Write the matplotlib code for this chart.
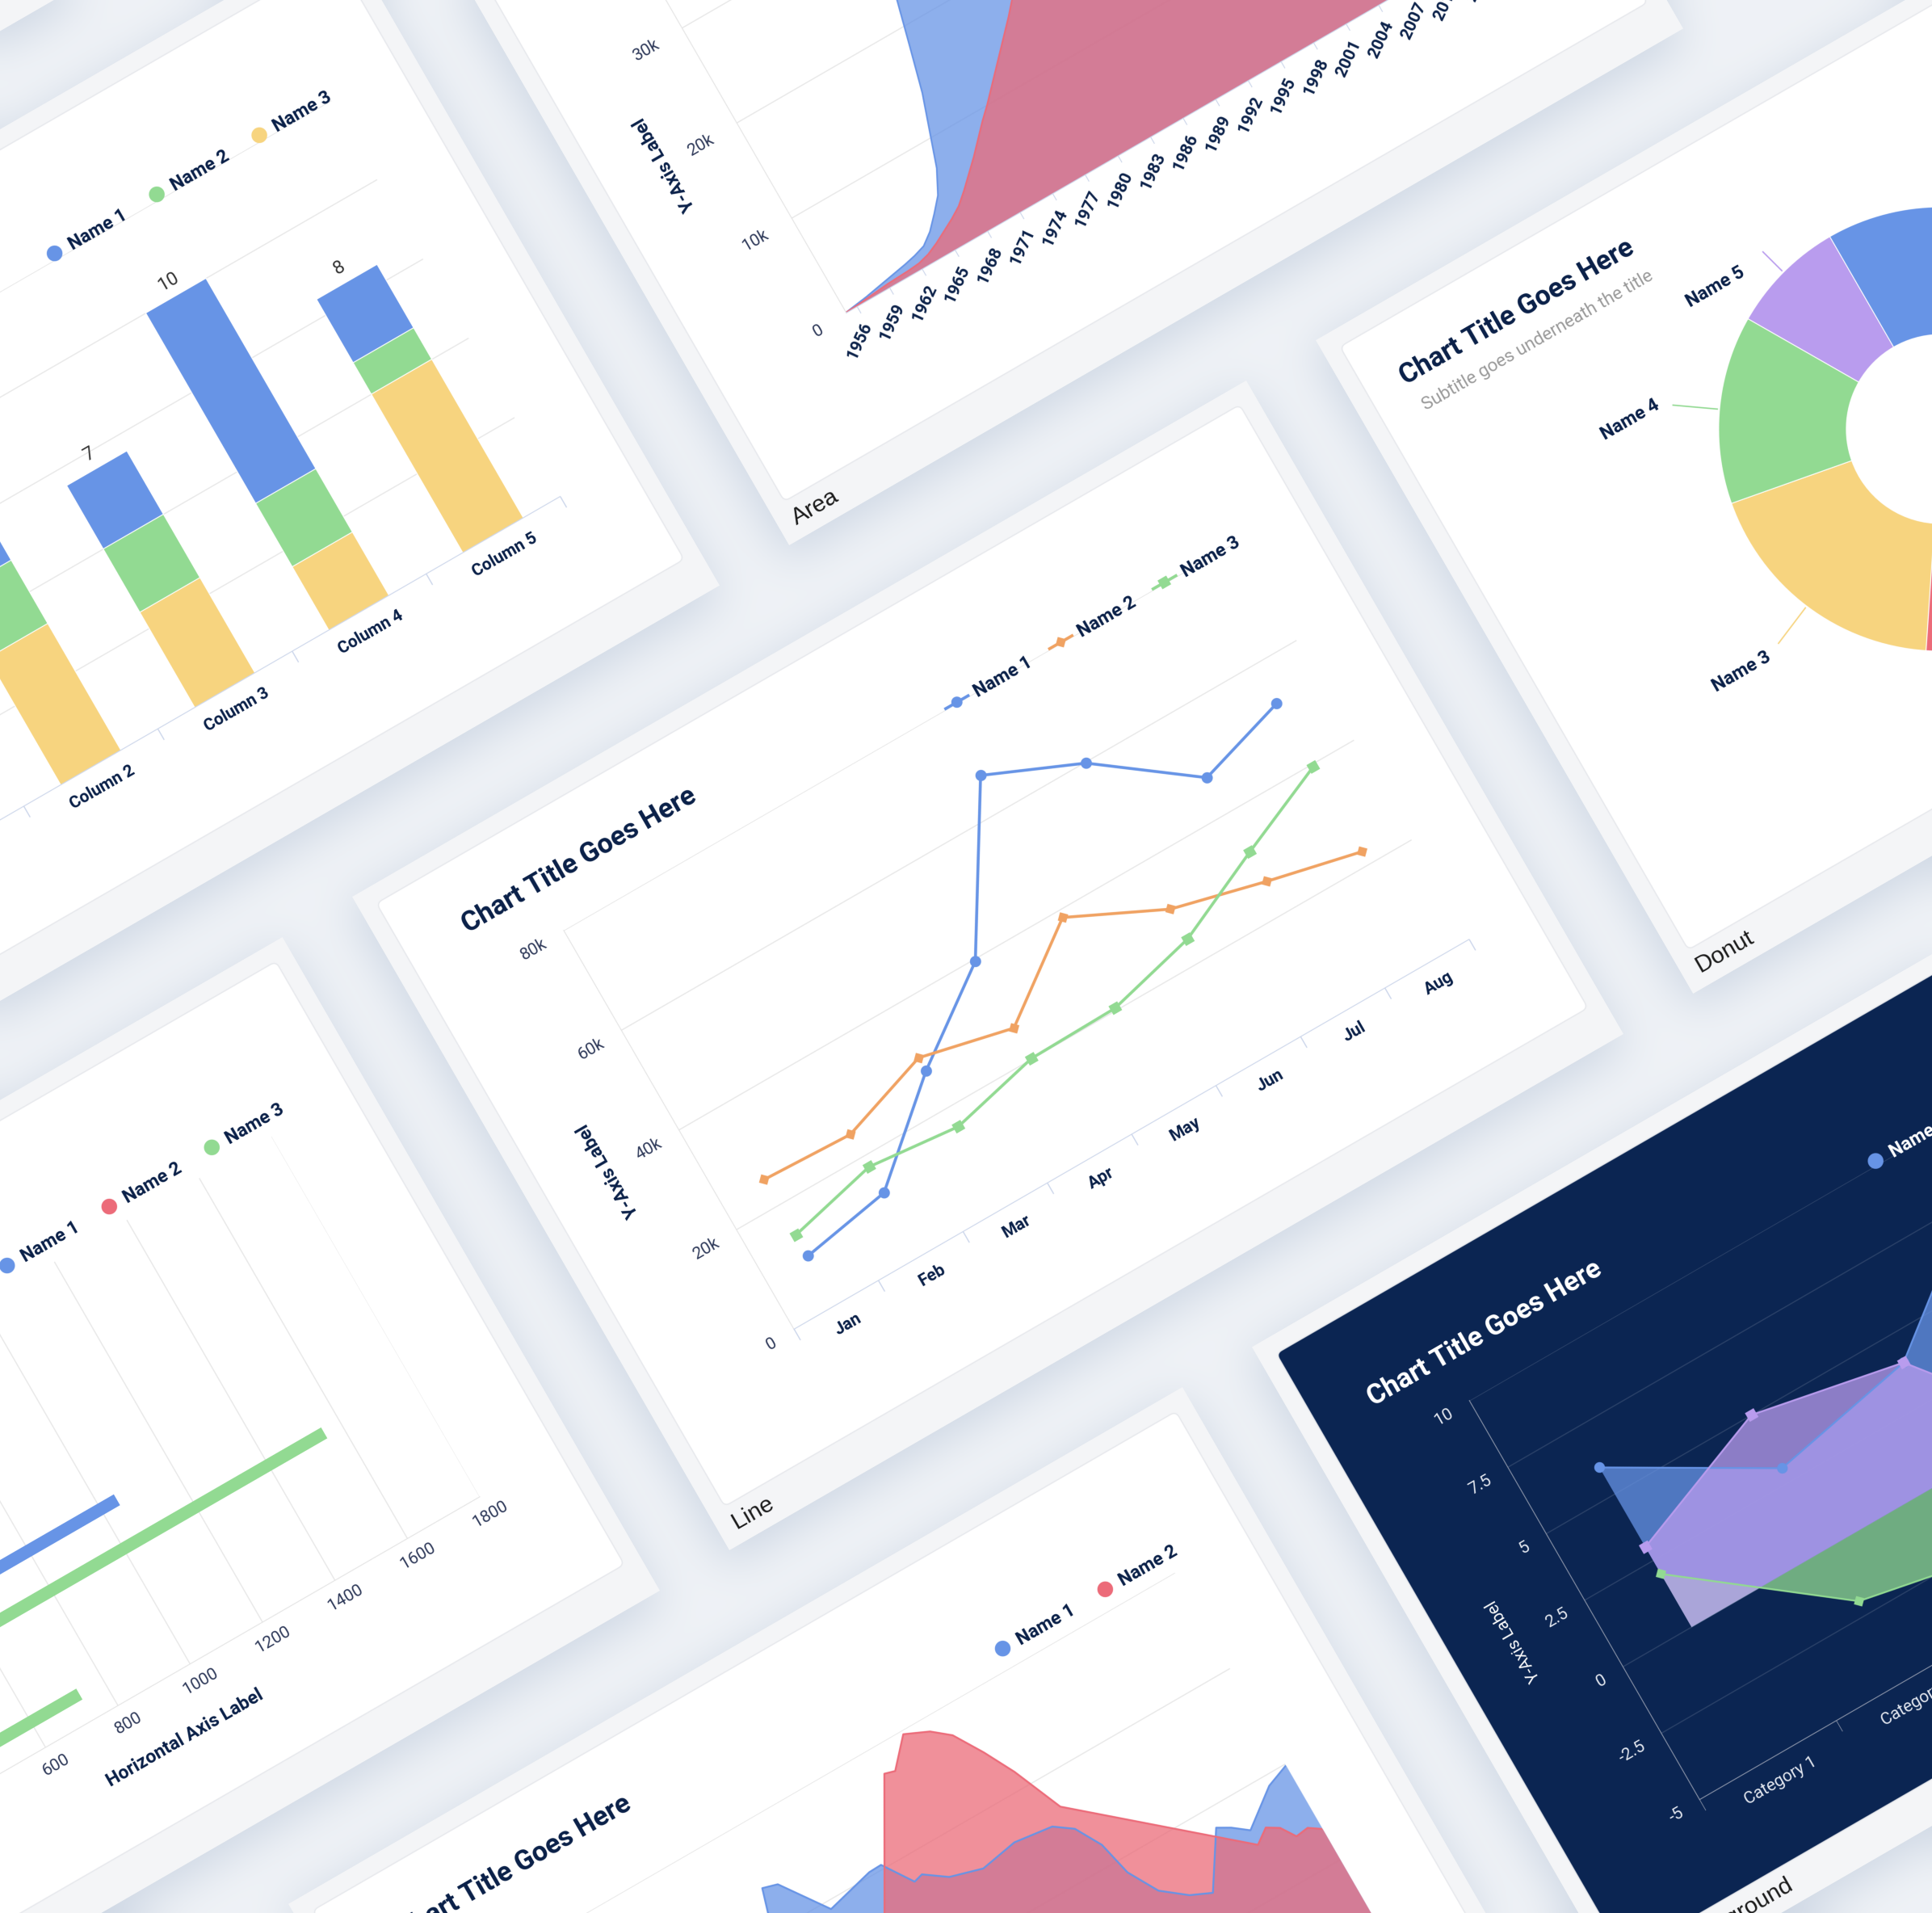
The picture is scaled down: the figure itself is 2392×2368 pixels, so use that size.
import numpy as np
import matplotlib
matplotlib.use('Agg')
import matplotlib.pyplot as plt
from matplotlib.lines import Line2D
from matplotlib.patches import FancyBboxPatch, Rectangle
from matplotlib.transforms import Affine2D

plt.rcParams['font.family'] = ['Roboto', 'DejaVu Sans']

# ---------------------------------------------------------------- data
months = ['Jan', 'Feb', 'Mar', 'Apr', 'May', 'Jun', 'Jul', 'Aug']
line_name1 = [9800, 12700, 27400, 39600, 67100, 59800, 47100, 52200]
line_name2 = [25100, 24400, 30000, 26200, 38600, 30500, 26300, 22500]
line_name3 = [14000, 17900, 16200, 20100, 20400, 24500, 32200, 39500]
line_yticks = [0, 20000, 40000, 60000, 80000]
line_ylabels = ['0', '20k', '40k', '60k', '80k']

columns = ['Column 1', 'Column 2', 'Column 3', 'Column 4', 'Column 5']
stack_name1 = [1, 3, 2, 6, 2]
stack_name2 = [2, 2, 2, 2, 1]
stack_name3 = [3, 4, 3, 2, 5]

# area chart, thousands
area_years = list(range(1955, 2018))
area_blue = [0.05, 0.2, 0.35, 0.55, 0.75, 0.95, 1.15, 1.4, 1.75, 2.6,
             3.8, 5.1, 7.3, 10.6, 13.9, 18.2, 22.6, 26.0, 28.4, 30.0,
             31.0, 31.4, 31.2, 30.6, 29.8, 28.9, 28.0, 27.2, 26.4, 25.6,
             24.9, 24.3, 23.8, 23.2, 22.6, 21.5, 19.8, 17.6, 15.4, 13.6,
             12.2, 11.3, 10.9, 10.7, 10.6, 10.6, 10.5, 10.4, 10.0, 9.0,
             8.4, 8.0, 6.4, 5.6, 5.2, 5.0, 4.9, 4.8, 4.8, 4.7,
             4.6, 4.5, 4.5]
area_red = [0.05, 0.1, 0.2, 0.3, 0.4, 0.45, 0.5, 0.6, 0.9, 1.4,
            2.0, 2.6, 3.3, 4.3, 5.4, 6.5, 7.7, 8.9, 10.0, 11.2,
            12.4, 13.6, 14.8, 16.0, 17.3, 19.0, 21.0, 23.0, 25.0, 27.0,
            29.0, 30.0, 29.5, 28.5, 27.5, 26.0, 24.0, 22.0, 20.0, 18.0,
            16.0, 14.5, 13.5, 12.5, 11.5, 11.0, 10.5, 10.0, 9.0, 8.5,
            8.0, 7.5, 7.0, 6.5, 6.0, 5.5, 5.2, 5.0, 4.8, 4.6,
            4.5, 4.4, 4.3]
area_yticks = [0, 10, 20, 30, 40]
area_ylabels = ['0', '10k', '20k', '30k', '40k']

donut_names = ['Name 1', 'Name 2', 'Name 3', 'Name 4', 'Name 5']
donut_values = [31.0, 28.4, 18.5, 13.7, 8.4]

bar_categories = ['Category 1', 'Category 2', 'Category 3', 'Category 4']
bar_name1 = [780, 610, 1045, 420]
bar_name2 = [820, 480, 560, 350]
bar_name3 = [900, 700, 1554, 735]

spline_x1 = [0, 5, 10, 15, 20, 25, 29, 33.0, 35.0, 39.4, 46.1, 47.9, 50.6, 51.9, 54.8,
             59.2, 64.4, 69.7, 72.1, 74.1, 75.2, 77.5, 80.7, 83.5, 88.1, 89.8, 91.8, 96.8, 100]
spline_name1 = [22, 26, 34, 41, 48, 55, 62, 84.9, 83.9, 73.0, 75.9, 76.0, 68.9, 69.5, 65.9,
                63.7, 65.3, 64.1, 61.1, 54.9, 46.6, 39.5, 35.1, 32.9, 45.3, 43.6, 40.9, 47.5, 49.6]
spline_x2 = [23.3, 54.2, 55.6, 58.9, 62.1, 64.4, 66.8, 69.0, 71.9, 91.7, 93.7, 95.3, 96.6, 98.4, 100]
spline_name2 = [0, 93.5, 92.8, 99.1, 96.6, 93.3, 86.4, 79.1, 67.1, 37.2, 39.7, 38.0, 34.5, 34.9, 33.0]

dark_categories = ['Category 1', 'Category 2', 'Category 3', 'Category 4', 'Category 5']
dark_name1 = [6, 3, 4, 8, 7]
dark_name2 = [2, -2, -3, -1, 1]
dark_name3 = [3, 5, 4, -2.5, 1]
dark_yticks = [-5, -2.5, 0, 2.5, 5, 7.5, 10]

# ---------------------------------------------------------------- layout / style
FIG_W, FIG_H = 2392, 2368
CARD_W, CARD_H = 1278, 934
ANGLE = 30
PITCH_X, PITCH_Y, STAGGER = 1378, 1040, 686
LINE_BL = (903, 1919)          # bottom-left corner of the "Line" card (image px)
SS = 2                         # supersampling of card renders

BLUE, GREEN, YELLOW = '#6794E6', '#92DA92', '#F7D47F'
RED, PURPLE, ORANGE = '#EC6B79', '#B99CEE', '#F0A262'
NAVY, TXT, GRID, AXC = '#0b2149', '#2f3a5a', '#e8e8e8', '#ccd6eb'
FRAME, DARK = '#f4f5f7', '#0b2552'
TITLE = 'Chart Title Goes Here'


def card_origin(col, row):
    ox = col * PITCH_X + (STAGGER if row % 2 else 0)
    oy = row * PITCH_Y
    c, s = np.cos(np.radians(ANGLE)), np.sin(np.radians(ANGLE))
    return LINE_BL[0] + ox * c - oy * s, LINE_BL[1] - ox * s - oy * c


def new_card(footer, inner='white'):
    fig = plt.figure(figsize=(CARD_W / 100, CARD_H / 100), dpi=100 * SS)
    fig.patch.set_facecolor(FRAME)
    bg = fig.add_axes([0, 0, 1, 1])
    bg.set_xlim(0, CARD_W)
    bg.set_ylim(0, CARD_H)
    bg.axis('off')
    bg.add_patch(FancyBboxPatch((22, 50), CARD_W - 44, CARD_H - 72,
                                boxstyle='round,pad=0,rounding_size=8',
                                fc=inner, ec='#e6e8ec', lw=1))
    bg.text(20, 25, footer, fontsize=21, family=['Liberation Sans', 'DejaVu Sans'],
            color='#1c1c1c', va='center', ha='left')
    return fig, bg


def chart_axes(fig, x0, y0, x1, y1):
    ax = fig.add_axes([x0 / CARD_W, y0 / CARD_H, (x1 - x0) / CARD_W, (y1 - y0) / CARD_H])
    ax.patch.set_alpha(0)
    for sp in ax.spines.values():
        sp.set_visible(False)
    ax.set_axisbelow(True)
    return ax


def legend_at(ax, bg, handles, labels, x, y, color=NAVY, dots=True):
    ax.legend(handles, labels, loc='center right', bbox_to_anchor=(x, y),
              bbox_transform=bg.transData, ncol=len(labels), frameon=False,
              prop={'weight': 'bold', 'size': 16.5}, labelcolor=color,
              handlelength=0.8 if dots else 1.4, handletextpad=0.5 if dots else 0.4,
              columnspacing=1.6 if dots else 1.2, borderpad=0, borderaxespad=0)


def dot(c):
    return Line2D([], [], ls='none', marker='o', ms=13, color=c)


def render(fig):
    fig.canvas.draw()
    img = np.asarray(fig.canvas.buffer_rgba()).copy()
    plt.close(fig)
    return img


# ---------------------------------------------------------------- line card
fig, bg = new_card('Line')
bg.text(101, 833, TITLE, fontsize=24.5, weight='bold', color=NAVY, va='center')
ax = chart_axes(fig, 206, 197, 1171, 767)
xm = np.arange(len(months))
ax.plot(xm, line_name1, color=BLUE, lw=2.6, marker='o', ms=9, label='Name 1', zorder=3)
ax.plot(xm, line_name2, color=ORANGE, lw=2.6, marker='D', ms=6.5, label='Name 2', zorder=3)
ax.plot(xm, line_name3, color=GREEN, lw=2.6, marker='s', ms=8, label='Name 3', zorder=3)
ax.set_xlim(-0.5, len(months) - 0.5)
ax.set_ylim(0, 80000)
ax.set_yticks(line_yticks, line_ylabels)
ax.set_xticks(xm, months, weight='bold', color=NAVY)
ax.set_xticks(np.arange(len(months) + 1) - 0.5, minor=True)
ax.tick_params(axis='x', which='minor', length=11, color=AXC, width=1)
ax.tick_params(axis='x', which='major', length=0, pad=13, labelsize=15)
ax.tick_params(axis='y', length=0, pad=20, labelsize=15, labelcolor=TXT)
ax.grid(axis='y', color=GRID, lw=1)
ax.spines['bottom'].set_visible(True)
ax.spines['bottom'].set_color(AXC)
ax.spines['left'].set_visible(True)
ax.spines['left'].set_color('#e4e4e4')
ax.set_ylabel('Y-Axis Label', fontsize=16.5, weight='bold', color=NAVY)
ax.yaxis.set_label_coords((115 - 206) / 965, 0.5)
h, l = ax.get_legend_handles_labels()
legend_at(ax, bg, h, l, 1170, 767, dots=False)
line_img = render(fig)

# ---------------------------------------------------------------- stacked column card
fig, bg = new_card('Column')
bg.text(90, 833, TITLE, fontsize=24.5, weight='bold', color=NAVY, va='center')
ax = chart_axes(fig, 204, 194, 1162, 760)
xc = np.arange(len(columns))
low = np.array(stack_name3)
mid = low + np.array(stack_name2)
ax.bar(xc, stack_name3, width=0.45, color=YELLOW, ec='white', lw=0.8)
ax.bar(xc, stack_name2, bottom=low, width=0.45, color=GREEN, ec='white', lw=0.8)
top = ax.bar(xc, stack_name1, bottom=mid, width=0.45, color=BLUE, ec='white', lw=0.8)
totals = mid + np.array(stack_name1)
ax.bar_label(top, labels=[str(t) for t in totals], padding=6, fontsize=16.5, color='#333333')
ax.set_xlim(-0.5, len(columns) - 0.5)
ax.set_ylim(0, 12.5)
ax.set_yticks(np.arange(0, 12.6, 2.5))
ax.set_xticks(xc, columns, weight='bold', color=NAVY)
ax.set_xticks(np.arange(len(columns) + 1) - 0.5, minor=True)
ax.tick_params(axis='x', which='minor', length=11, color=AXC, width=1)
ax.tick_params(axis='x', which='major', length=0, pad=13, labelsize=15)
ax.tick_params(axis='y', length=0, pad=18, labelsize=15, labelcolor=TXT)
ax.grid(axis='y', color=GRID, lw=1)
ax.spines['bottom'].set_visible(True)
ax.spines['bottom'].set_color(AXC)
legend_at(ax, bg, [dot(BLUE), dot(GREEN), dot(YELLOW)], ['Name 1', 'Name 2', 'Name 3'], 1163, 766)
stack_img = render(fig)

# ---------------------------------------------------------------- area card
fig, bg = new_card('Area')
bg.text(90, 833, TITLE, fontsize=24.5, weight='bold', color=NAVY, va='center')
ax = chart_axes(fig, 205, 213.5, 1168, 756)
ax.fill_between(area_years, area_blue, color=BLUE, alpha=0.75, lw=0)
ax.plot(area_years, area_blue, color=BLUE, lw=1.4)
ax.fill_between(area_years, area_red, color=RED, alpha=0.75, lw=0)
ax.plot(area_years, area_red, color=RED, lw=1.4)
ax.set_xlim(area_years[0], area_years[-1])
ax.set_ylim(0, 40)
ax.set_yticks(area_yticks, area_ylabels)
yrs = list(range(1956, 2017, 3))
ax.set_xticks(yrs, [str(y) for y in yrs], rotation=35, ha='right', va='center',
              rotation_mode='anchor', weight='bold', color=NAVY)
ax.tick_params(axis='x', length=7, color=AXC, pad=11, labelsize=15)
ax.tick_params(axis='y', length=0, pad=26, labelsize=15, labelcolor=TXT)
ax.grid(axis='y', color=GRID, lw=1)
ax.spines['bottom'].set_visible(True)
ax.spines['bottom'].set_color(AXC)
ax.spines['left'].set_visible(True)
ax.spines['left'].set_color('#e4e4e4')
ax.set_ylabel('Y-Axis Label', fontsize=16.5, weight='bold', color=NAVY)
ax.yaxis.set_label_coords((112 - 205) / 963, 0.5)
area_img = render(fig)

# ---------------------------------------------------------------- donut card
fig, bg = new_card('Donut')
bg.text(68, 840, TITLE, fontsize=24.5, weight='bold', color=NAVY, va='center')
bg.text(74, 797, 'Subtitle goes underneath the title', fontsize=16, color='#9a9a9a', va='center')
ax = chart_axes(fig, 615 - 275, 452 - 275, 615 + 275, 452 + 275)
wedges, texts = ax.pie(donut_values, colors=[BLUE, RED, YELLOW, GREEN, PURPLE], startangle=90,
                       counterclock=False, labels=donut_names, labeldistance=1.28,
                       wedgeprops=dict(width=1 - 117 / 275, edgecolor='white', linewidth=0.8),
                       textprops=dict(fontsize=16.5, weight='bold', color=NAVY))
for w, t in zip(wedges, texts):
    a = np.radians((w.theta1 + w.theta2) / 2)
    reach = 1.21
    if abs(np.cos(a)) < 0.35:          # labels near the top sit closer to the ring
        reach = 1.13
        t.set_position((1.1 * np.cos(a) - 0.13, 1.1 * np.sin(a)))
    ax.plot([1.01 * np.cos(a), reach * np.cos(a)],
            [1.01 * np.sin(a), reach * np.sin(a)],
            color=w.get_facecolor(), lw=1.2, clip_on=False)
ax.set_xlim(-1, 1)
ax.set_ylim(-1, 1)
donut_img = render(fig)

# ---------------------------------------------------------------- horizontal bar card
fig, bg = new_card('Bar')
bg.text(90, 833, TITLE, fontsize=24.5, weight='bold', color=NAVY, va='center')
ax = chart_axes(fig, 212, 212, 1143, 727)
yb = np.arange(len(bar_categories))
ax.barh(yb - 0.22, bar_name1, height=0.12, color=BLUE)
ax.barh(yb, bar_name2, height=0.12, color=RED)
ax.barh(yb + 0.22, bar_name3, height=0.12, color=GREEN)
ax.set_ylim(len(bar_categories) - 0.5, -0.5)
ax.set_xlim(0, 1800)
ax.set_xticks(np.arange(0, 1801, 200))
ax.set_yticks(yb, bar_categories, weight='bold', color=NAVY)
ax.tick_params(axis='x', length=0, pad=11, labelsize=15, labelcolor=TXT)
ax.tick_params(axis='y', length=0, pad=12, labelsize=15)
ax.grid(axis='x', color=GRID, lw=1)
ax.spines['left'].set_visible(True)
ax.spines['left'].set_color(AXC)
ax.spines['bottom'].set_visible(True)
ax.spines['bottom'].set_color('#e4e4e4')
ax.set_xlabel('Horizontal Axis Label', fontsize=16.5, weight='bold', color=NAVY)
ax.xaxis.set_label_coords(0.5, (147 - 212) / 515)
legend_at(ax, bg, [dot(BLUE), dot(RED), dot(GREEN)], ['Name 1', 'Name 2', 'Name 3'], 1172, 751)
bar_img = render(fig)

# ---------------------------------------------------------------- spline area card
fig, bg = new_card('Spline')
bg.text(99, 833, TITLE, fontsize=24.5, weight='bold', color=NAVY, va='center')
ax = chart_axes(fig, 204, 194, 1155, 740)
ax.fill_between(spline_x1, spline_name1, color=BLUE, alpha=0.75, lw=0)
ax.plot(spline_x1, spline_name1, color=BLUE, lw=1.6)
ax.fill_between(spline_x2, spline_name2, color=RED, alpha=0.75, lw=0)
ax.plot(spline_x2, spline_name2, color=RED, lw=1.6)
ax.set_xlim(0, 100)
ax.set_ylim(0, 100)
ax.set_yticks([0, 25, 50, 75, 100])
ax.set_xticks([])
ax.tick_params(axis='y', length=0, pad=18, labelsize=15, labelcolor=TXT)
ax.grid(axis='y', color=GRID, lw=1)
ax.spines['bottom'].set_visible(True)
ax.spines['bottom'].set_color(AXC)
legend_at(ax, bg, [dot(BLUE), dot(RED)], ['Name 1', 'Name 2'], 1170, 764)
spline_img = render(fig)

# ---------------------------------------------------------------- dark card
fig, bg = new_card('Dark Background', inner=DARK)
bg.text(93, 805, TITLE, fontsize=24.5, weight='bold', color='white', va='center')
ax = chart_axes(fig, 200, 172, 1178, 742)
xd = np.arange(len(dark_categories))
for vals, c, m, ms, lab in [(dark_name1, BLUE, 'o', 8.5, 'Name 1'),
                            (dark_name2, GREEN, 'D', 6.5, 'Name 2'),
                            (dark_name3, PURPLE, 's', 8, 'Name 3')]:
    ax.fill_between(xd, vals, 0, color=c, alpha=0.75, lw=0)
    ax.plot(xd, vals, color=c, lw=1.6, marker=m, ms=ms, label=lab)
ax.set_xlim(-0.5, len(dark_categories) - 0.5)
ax.set_ylim(-5, 10)
ax.set_yticks(dark_yticks, ['-5', '-2.5', '0', '2.5', '5', '7.5', '10'])
ax.set_xticks(xd, dark_categories)
ax.set_xticks(np.arange(len(dark_categories) + 1) - 0.5, minor=True)
ax.tick_params(axis='x', which='minor', length=11, color='#8a93a8')
ax.tick_params(axis='x', which='major', length=0, pad=14, labelsize=15, labelcolor='#e4e8f0')
ax.tick_params(axis='y', length=0, pad=19, labelsize=15, labelcolor='#e4e8f0')
ax.grid(axis='y', color='white', alpha=0.13, lw=1)
for side in ('left', 'bottom'):
    ax.spines[side].set_visible(True)
    ax.spines[side].set_color('#8a93a8')
ax.set_ylabel('Y-Axis Label', fontsize=15, color='white')
ax.yaxis.set_label_coords((108 - 200) / 978, 0.5)
legend_at(ax, bg, [dot(BLUE), dot(GREEN), dot(PURPLE)], ['Name 1', 'Name 2', 'Name 3'], 1176, 746,
          color='white')
dark_img = render(fig)

# ---------------------------------------------------------------- assemble
cards = [(0, 0, line_img), (0, 1, donut_img), (0, -1, bar_img), (1, 0, area_img),
         (1, -1, stack_img), (-1, -1, spline_img), (-1, 0, dark_img), (2, 0, None)]

# soft shadows on the page background
q = 4
gx = (np.arange(FIG_W // q) + 0.5) * q
gy = (np.arange(FIG_H // q) + 0.5) * q
X, Y = np.meshgrid(gx, gy)
mask = np.zeros_like(X)
cs, sn = np.cos(np.radians(ANGLE)), np.sin(np.radians(ANGLE))
for row, col, _ in cards:
    bx, by = card_origin(col, row)
    dx, dy = X - bx, Y - (by + 14)
    u = dx * cs - dy * sn
    v = -dx * sn - dy * cs
    mask = np.maximum(mask, ((u > -4) & (u < CARD_W + 4) & (v > -4) & (v < CARD_H + 4)).astype(float))


def box_blur(a, r):
    for axis in (0, 1):
        pad = [(0, 0), (0, 0)]
        pad[axis] = (r + 1, r)
        c = np.cumsum(np.pad(a, pad, mode='edge'), axis=axis)
        if axis == 0:
            a = (c[2 * r + 1:, :] - c[:-2 * r - 1, :]) / (2 * r + 1)
        else:
            a = (c[:, 2 * r + 1:] - c[:, :-2 * r - 1]) / (2 * r + 1)
    return a


shade = mask
for _ in range(3):
    shade = box_blur(shade, 6)
base = np.array([0.937, 0.949, 0.966])
dark_bg = np.array([0.79, 0.83, 0.885])
page = base * (1 - 0.85 * shade[..., None]) + dark_bg * (0.85 * shade[..., None])

fig = plt.figure(figsize=(FIG_W / 100, FIG_H / 100), dpi=100)
ax = fig.add_axes([0, 0, 1, 1])
ax.imshow(page, extent=(0, FIG_W, 0, FIG_H), interpolation='bilinear', zorder=0)
for row, col, img in cards:
    bx, by = card_origin(col, row)
    tr = Affine2D().rotate_deg(ANGLE).translate(bx, FIG_H - by) + ax.transData
    if img is None:
        ax.add_patch(Rectangle((0, 0), CARD_W, CARD_H, fc=FRAME, ec='none', transform=tr, zorder=2))
        ax.add_patch(Rectangle((22, 50), CARD_W - 44, CARD_H - 72, fc='white', ec='none',
                               transform=tr, zorder=2))
        continue
    im = ax.imshow(img, extent=(0, CARD_W, 0, CARD_H), interpolation='antialiased', zorder=2)
    im.set_transform(tr)
ax.set_xlim(0, FIG_W)
ax.set_ylim(0, FIG_H)
ax.set_aspect('auto')
ax.axis('off')
fig.savefig('out.png', dpi=100)
